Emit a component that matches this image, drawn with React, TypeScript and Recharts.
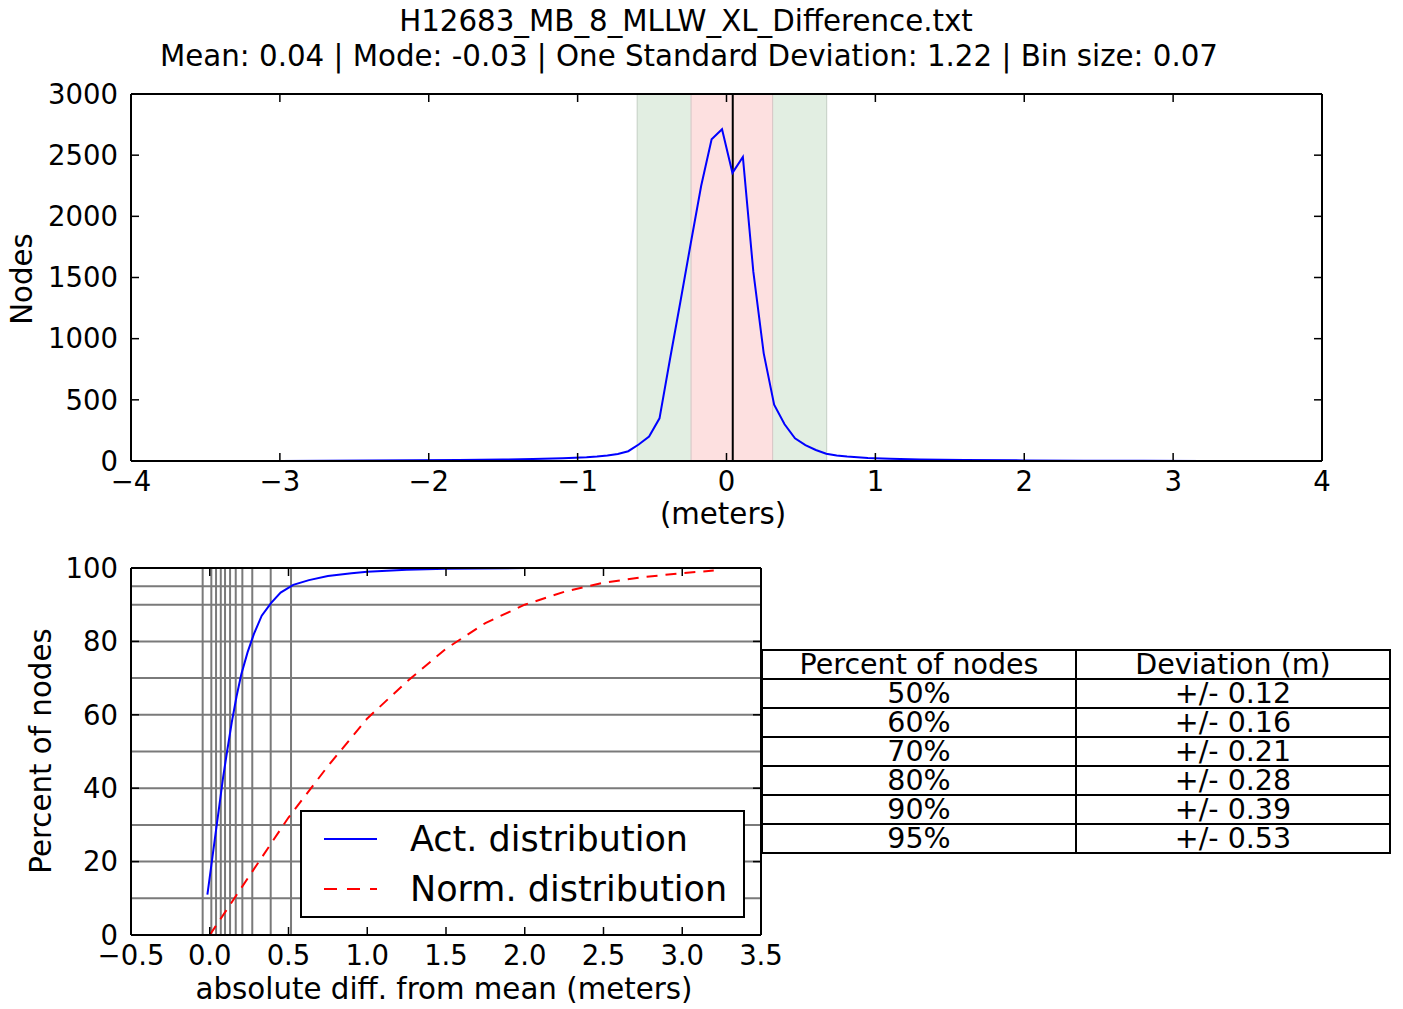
import React from 'react'
import { LineChart, Line, XAxis, YAxis, ReferenceArea, ReferenceLine, Legend } from 'recharts'

// histogram of differences (bin size 0.07)
const histX = [-4, -3.5, -3, -2.7, -2.4, -2.1, -1.8, -1.5, -1.3, -1.1, -0.94, -0.87, -0.8, -0.73, -0.66, -0.59, -0.52, -0.45, -0.38, -0.31, -0.24, -0.17, -0.1, -0.03, 0.04, 0.11, 0.18, 0.25, 0.32, 0.39, 0.46, 0.53, 0.6, 0.67, 0.74, 0.81, 0.95, 1.1, 1.3, 1.6, 2.0, 2.4, 2.8, 3.2, 3.6, 4]
const histNodes = [0, 0, 1, 3, 5, 7, 9, 12, 16, 22, 30, 36, 45, 58, 80, 135, 200, 349, 830, 1300, 1780, 2250, 2630, 2712, 2355, 2485, 1550, 880, 460, 300, 185, 130, 90, 60, 45, 36, 25, 18, 12, 8, 5, 3, 2, 1, 0, 0]
const histTicksX = [-4, -3, -2, -1, 0, 1, 2, 3, 4]
const histTicksY = [0, 500, 1000, 1500, 2000, 2500, 3000]
const meanValue = 0.042
const oneSigma = [-0.6, 0.673]
const halfBand = [-0.238, 0.31]

// cumulative distributions
const actX = [-0.015, 0.01, 0.035, 0.06, 0.085, 0.11, 0.14, 0.17, 0.2, 0.24, 0.28, 0.33, 0.39, 0.45, 0.53, 0.63, 0.75, 0.9, 1.0, 1.25, 1.5, 2.0, 2.5, 3.0, 3.3]
const actPct = [11, 19, 27, 35, 43, 50, 58, 65, 71, 77, 82, 87, 90.5, 93.3, 95.4, 96.7, 97.8, 98.6, 99, 99.5, 99.8, 100, 100, 100, 100]
const normX = [0, 0.25, 0.5, 0.75, 1.0, 1.25, 1.5, 1.75, 2.0, 2.25, 2.5, 2.75, 3.0, 3.2]
const normPct = [0, 16, 32, 46, 59, 69, 78, 85, 90, 93.5, 96, 97.5, 98.6, 99.3]
const cdfTicksX = [-0.5, 0, 0.5, 1, 1.5, 2, 2.5, 3, 3.5]
const cdfTicksY = [0, 20, 40, 60, 80, 100]
const gridPct = [10, 20, 30, 40, 50, 60, 70, 80, 90, 95]
const gridDev = [-0.045, 0.01, 0.04, 0.07, 0.097, 0.129, 0.165, 0.207, 0.27, 0.387, 0.516]

// table
const tableHead = ['Percent of nodes', 'Deviation (m)']
const tablePct = ['50%', '60%', '70%', '80%', '90%', '95%']
const tableDev = ['+/- 0.12', '+/- 0.16', '+/- 0.21', '+/- 0.28', '+/- 0.39', '+/- 0.53']

const FONT = '"DejaVu Sans", sans-serif'
const tickStyle = { fontSize: 27.5, fill: '#000', fontFamily: FONT }
const axisLine = { stroke: '#000', strokeWidth: 2 }
const tickLine = { stroke: '#000', strokeWidth: 1.5 }
const fmt = (d: number) => (v: number) => v.toFixed(d).replace('-', '\u2212')
const noLabel = () => <g />

const histData = histX.map((x, i) => ({ x, n: histNodes[i] }))
const actData = actX.map((x, i) => ({ x, y: actPct[i] }))
const normData = normX.map((x, i) => ({ x, y: normPct[i] }))

function Txt({ x, y, size = 29.3, rotate = 0, children }: any) {
  return (
    <div style={{ position: 'absolute', left: x, top: y, transform: `translate(-50%, -50%) rotate(${rotate}deg)`, fontFamily: FONT, fontSize: size, lineHeight: 1, whiteSpace: 'nowrap', color: '#000' }}>
      {children}
    </div>
  )
}

function LegendBox(props: any) {
  const items = props.payload || []
  return (
    <div style={{ width: 445, height: 108, boxSizing: 'border-box', border: '2px solid #000', background: '#fff', position: 'relative', fontFamily: FONT, fontSize: 35 }}>
      {items.map((p: any, i: number) => (
        <div key={i} style={{ position: 'absolute', left: 0, top: 5 + i * 50, height: 44, display: 'flex', alignItems: 'center' }}>
          <svg width={108} height={44}>
            <line x1={22} x2={75} y1={22} y2={22} stroke={p.color} strokeWidth={2} strokeDasharray={p.payload?.strokeDasharray ? '13 10' : undefined} />
          </svg>
          <span style={{ lineHeight: '44px' }}>{p.value}</span>
        </div>
      ))}
    </div>
  )
}

export default function App() {
  const cell = { border: '2px solid #000', padding: 0, height: 27, lineHeight: '27px', textAlign: 'center' as const }
  return (
    <div style={{ position: 'absolute', left: 0, top: 0, width: 1403, height: 1009, background: '#fff', fontFamily: FONT }}>
      <Txt x={686} y={22}>H12683_MB_8_MLLW_XL_Difference.txt</Txt>
      <Txt x={689} y={57}>Mean: 0.04 | Mode: -0.03 | One Standard Deviation: 1.22 | Bin size: 0.07</Txt>

      <div style={{ position: 'absolute', left: 0, top: 0 }}>
        <LineChart width={1403} height={540} data={histData} margin={{ top: 93, right: 80, bottom: 39, left: 51 }}>
          <ReferenceArea x1={oneSigma[0]} x2={oneSigma[1]} fill="#e2eee2" fillOpacity={1} stroke="#c4cec4" />
          <ReferenceArea x1={halfBand[0]} x2={halfBand[1]} fill="#fde0e0" fillOpacity={1} stroke="#d6c4c4" />
          <ReferenceLine x={meanValue} stroke="#000" strokeWidth={2} />
          <XAxis dataKey="x" type="number" domain={[-4, 4]} ticks={histTicksX} interval={0} allowDataOverflow height={40} tickSize={-8} tickMargin={18} tickFormatter={fmt(0)} tick={tickStyle} axisLine={axisLine} tickLine={tickLine} />
          <XAxis xAxisId="top" orientation="top" dataKey="x" type="number" domain={[-4, 4]} ticks={histTicksX} interval={0} allowDataOverflow height={1} tickSize={-8} tick={noLabel} axisLine={axisLine} tickLine={tickLine} />
          <YAxis type="number" domain={[0, 3000]} ticks={histTicksY} interval={0} allowDataOverflow width={80} tickSize={-8} tickMargin={21} tick={tickStyle} axisLine={axisLine} tickLine={tickLine} />
          <YAxis yAxisId="right" orientation="right" type="number" domain={[0, 3000]} ticks={histTicksY} interval={0} allowDataOverflow width={1} tickSize={-8} tick={noLabel} axisLine={axisLine} tickLine={tickLine} />
          <Line type="linear" dataKey="n" stroke="#0000ff" strokeWidth={2} dot={false} isAnimationActive={false} />
        </LineChart>
      </div>
      <Txt x={23} y={279} rotate={-90}>Nodes</Txt>
      <Txt x={723} y={515}>(meters)</Txt>

      <div style={{ position: 'absolute', left: 0, top: 540 }}>
        <LineChart width={800} height={469} margin={{ top: 27, right: 38, bottom: 34, left: 51 }}>
          {gridDev.map((v) => (
            <ReferenceLine key={'v' + v} x={v} stroke="#7a7a7a" strokeWidth={2} />
          ))}
          {gridPct.map((v) => (
            <ReferenceLine key={'h' + v} y={v} stroke="#7a7a7a" strokeWidth={2} />
          ))}
          <XAxis dataKey="x" type="number" domain={[-0.5, 3.5]} ticks={cdfTicksX} interval={0} allowDataOverflow height={40} tickSize={-8} tickMargin={18} tickFormatter={fmt(1)} tick={tickStyle} axisLine={axisLine} tickLine={tickLine} />
          <XAxis xAxisId="top" orientation="top" dataKey="x" type="number" domain={[-0.5, 3.5]} ticks={cdfTicksX} interval={0} allowDataOverflow height={1} tickSize={-8} tick={noLabel} axisLine={axisLine} tickLine={tickLine} />
          <YAxis type="number" domain={[0, 100]} ticks={cdfTicksY} interval={0} allowDataOverflow width={80} tickSize={-8} tickMargin={21} tick={tickStyle} axisLine={axisLine} tickLine={tickLine} />
          <YAxis yAxisId="right" orientation="right" type="number" domain={[0, 100]} ticks={cdfTicksY} interval={0} allowDataOverflow width={1} tickSize={-8} tick={noLabel} axisLine={axisLine} tickLine={tickLine} />
          <Line data={actData} type="linear" dataKey="y" name="Act. distribution" stroke="#0000ff" strokeWidth={2} dot={false} isAnimationActive={false} />
          <Line data={normData} type="linear" dataKey="y" name="Norm. distribution" stroke="#ff0000" strokeWidth={2} strokeDasharray="11 8" dot={false} isAnimationActive={false} />
          <Legend layout="horizontal" verticalAlign="middle" align="center" content={<LegendBox />} wrapperStyle={{ position: 'absolute', left: 300, top: 270, width: 445, height: 108, bottom: 'auto', right: 'auto' }} />
        </LineChart>
      </div>
      <Txt x={42} y={751} rotate={-90}>Percent of nodes</Txt>
      <Txt x={444} y={990}>absolute diff. from mean (meters)</Txt>

      <table style={{ position: 'absolute', left: 761, top: 649, width: 630, borderCollapse: 'collapse', fontFamily: FONT, fontSize: 28.5, tableLayout: 'fixed' }}>
        <tbody>
          <tr>
            <td style={cell}>{tableHead[0]}</td>
            <td style={cell}>{tableHead[1]}</td>
          </tr>
          {tablePct.map((p, i) => (
            <tr key={p}>
              <td style={cell}>{p}</td>
              <td style={cell}>{tableDev[i]}</td>
            </tr>
          ))}
        </tbody>
      </table>
    </div>
  )
}
